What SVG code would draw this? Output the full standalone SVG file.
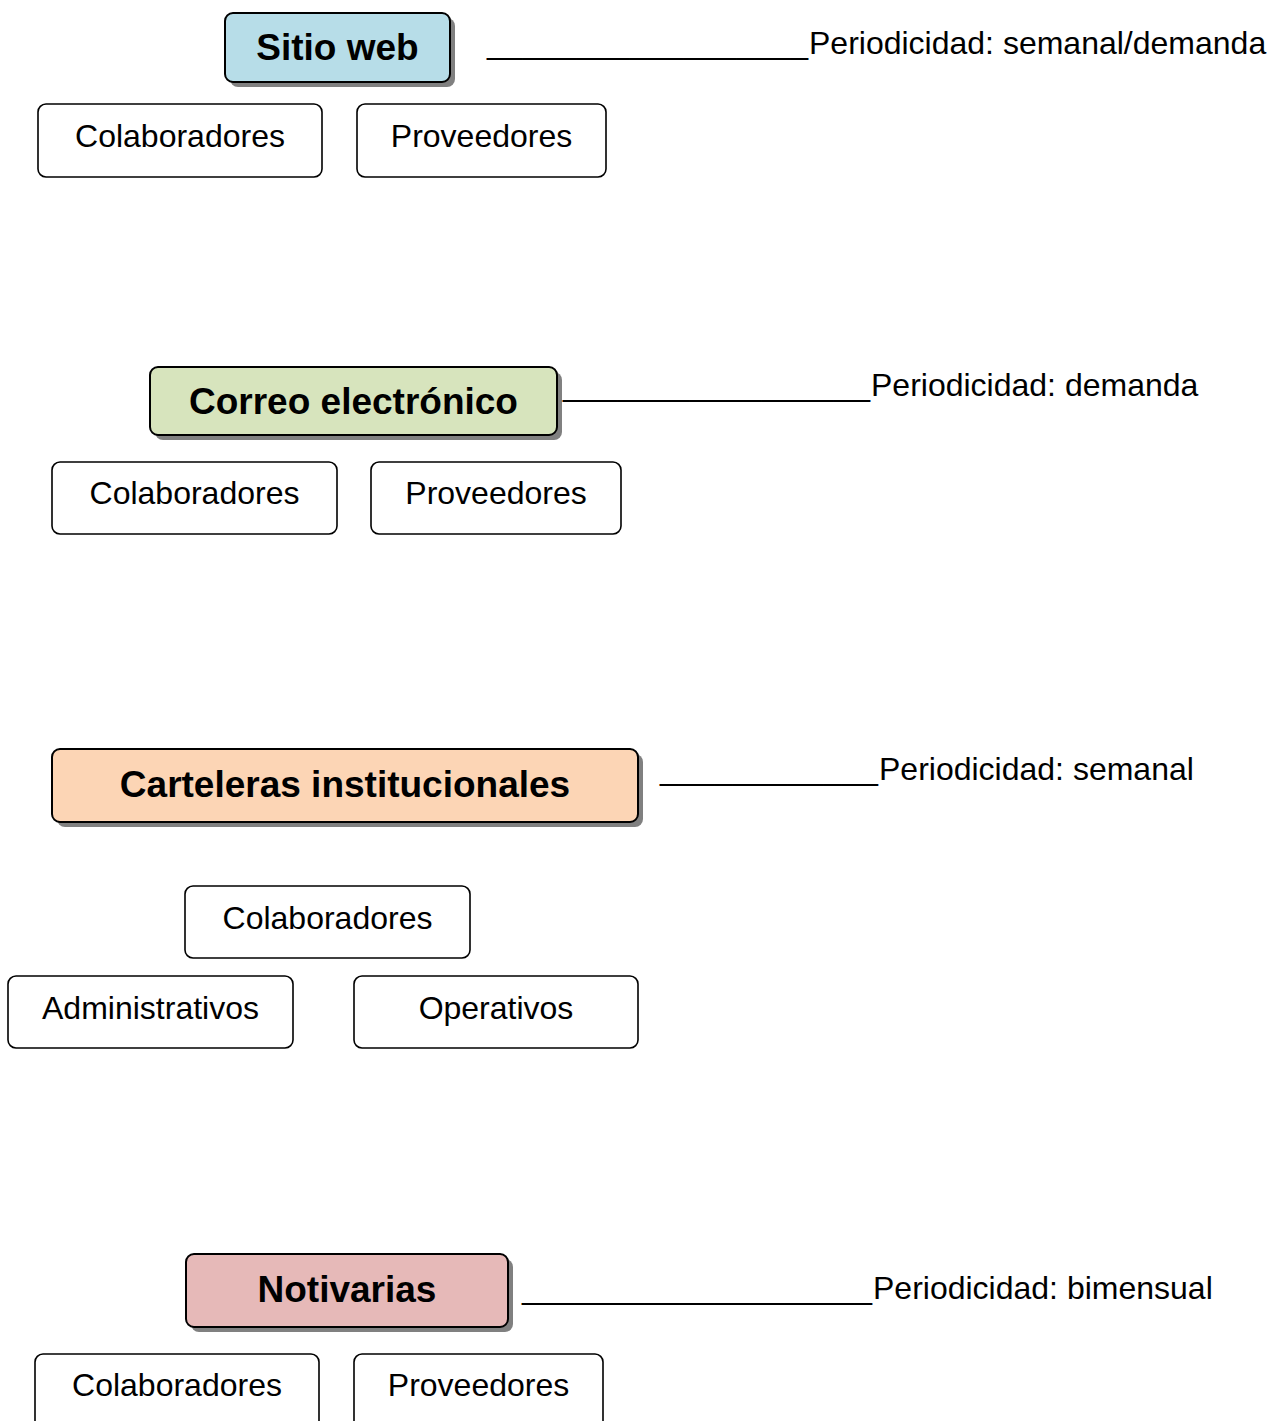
<svg xmlns="http://www.w3.org/2000/svg" width="1270" height="1421" viewBox="0 0 1270 1421">
<style>
.shadow{fill:#808080;}
.head{stroke:#000;stroke-width:2;}
.box{fill:#fff;stroke:#000;stroke-width:1.6;}
.ht{font-family:"Liberation Sans",Arial,sans-serif;font-weight:bold;font-size:37px;fill:#000;text-anchor:middle;}
.bt{font-family:"Liberation Sans",Arial,sans-serif;font-size:32px;fill:#000;text-anchor:middle;}
.pt{font-family:"Liberation Sans",Arial,sans-serif;font-size:32px;fill:#000;}
</style>
<rect width="1270" height="1421" fill="#fff"/>
<g id="connectors"></g>

<g id="sitio-web">
<rect class="shadow" x="230" y="18" width="225" height="69" rx="8"/>
<rect class="head" x="225" y="13" width="225" height="69" rx="8" fill="#b7dde8"/>
<text class="ht" x="337.5" y="60">Sitio web</text>
</g>
<g id="sitio-periodicidad">
<text class="pt" x="487" y="54"><tspan textLength="321" lengthAdjust="spacingAndGlyphs">__________________</tspan><tspan x="809">Periodicidad: semanal/demanda</tspan></text>
</g>
<g id="sw-colaboradores">
<rect class="box" x="38" y="104" width="284" height="73" rx="8"/>
<text class="bt" x="180" y="147">Colaboradores</text>
</g>
<g id="sw-proveedores">
<rect class="box" x="357" y="104" width="249" height="73" rx="8"/>
<text class="bt" x="481.5" y="147">Proveedores</text>
</g>

<g id="correo">
<rect class="shadow" x="155" y="372" width="407" height="68" rx="8"/>
<rect class="head" x="150" y="367" width="407" height="68" rx="8" fill="#d7e4bd"/>
<text class="ht" x="353.5" y="414">Correo electrónico</text>
</g>
<g id="correo-periodicidad">
<text class="pt" x="563" y="396"><tspan textLength="307" lengthAdjust="spacingAndGlyphs">_________________</tspan><tspan x="871">Periodicidad: demanda</tspan></text>
</g>
<g id="ce-colaboradores">
<rect class="box" x="52" y="462" width="285" height="72" rx="8"/>
<text class="bt" x="194.5" y="504">Colaboradores</text>
</g>
<g id="ce-proveedores">
<rect class="box" x="371" y="462" width="250" height="72" rx="8"/>
<text class="bt" x="496" y="504">Proveedores</text>
</g>

<g id="carteleras">
<rect class="shadow" x="57" y="754" width="586" height="73" rx="8"/>
<rect class="head" x="52" y="749" width="586" height="73" rx="8" fill="#fcd5b5"/>
<text class="ht" x="345" y="797">Carteleras institucionales</text>
</g>
<g id="carteleras-periodicidad">
<text class="pt" x="660" y="780"><tspan textLength="218" lengthAdjust="spacingAndGlyphs">____________</tspan><tspan x="879">Periodicidad: semanal</tspan></text>
</g>
<g id="ci-colaboradores">
<rect class="box" x="185" y="886" width="285" height="72" rx="8"/>
<text class="bt" x="327.5" y="929">Colaboradores</text>
</g>
<g id="ci-administrativos">
<rect class="box" x="8" y="976" width="285" height="72" rx="8"/>
<text class="bt" x="150.5" y="1019">Administrativos</text>
</g>
<g id="ci-operativos">
<rect class="box" x="354" y="976" width="284" height="72" rx="8"/>
<text class="bt" x="496" y="1019">Operativos</text>
</g>

<g id="notivarias">
<rect class="shadow" x="191" y="1259" width="322" height="73" rx="8"/>
<rect class="head" x="186" y="1254" width="322" height="73" rx="8" fill="#e6b9b8"/>
<text class="ht" x="347" y="1302">Notivarias</text>
</g>
<g id="notivarias-periodicidad">
<text class="pt" x="522" y="1299"><tspan textLength="350" lengthAdjust="spacingAndGlyphs">____________________</tspan><tspan x="873">Periodicidad: bimensual</tspan></text>
</g>
<g id="nv-colaboradores">
<rect class="box" x="35" y="1354" width="284" height="80" rx="8"/>
<text class="bt" x="177" y="1396">Colaboradores</text>
</g>
<g id="nv-proveedores">
<rect class="box" x="354" y="1354" width="249" height="80" rx="8"/>
<text class="bt" x="478.5" y="1396">Proveedores</text>
</g>
</svg>
